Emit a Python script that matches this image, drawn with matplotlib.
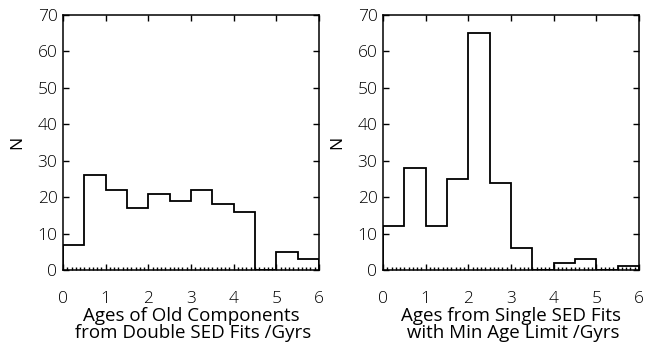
import matplotlib.pyplot as plt
import numpy as np
from matplotlib.ticker import MultipleLocator

bin_edges = [0, 0.5, 1, 1.5, 2, 2.5, 3, 3.5, 4, 4.5, 5, 5.5, 6]
double_counts = [7, 26, 22, 17, 21, 19, 22, 18, 16, 0, 5, 3]
single_counts = [12, 28, 12, 25, 65, 24, 6, 0, 2, 3, 0, 1]

xlabels = ['Ages of Old Components\n from Double SED Fits /Gyrs',
           'Ages from Single SED Fits\n with Min Age Limit /Gyrs']

plt.rcParams['font.family'] = ['Open Sans', 'DejaVu Sans']
plt.rcParams['font.weight'] = 'light'

fig = plt.figure(figsize=(6.47, 3.45), dpi=100)
ax1 = fig.add_axes([63/647, 1 - 270/345, 256/647, 255/345])
ax2 = fig.add_axes([383/647, 1 - 270/345, 256/647, 255/345])

for ax, counts, lab in zip([ax1, ax2], [double_counts, single_counts], xlabels):
    ax.stairs(counts, bin_edges, color='black', linewidth=1.3)
    ax.set_xlim(0, 6)
    ax.set_ylim(0, 70)
    ax.set_xticks(range(7))
    ax.set_yticks(range(0, 71, 10))
    ax.xaxis.set_minor_locator(MultipleLocator(0.1))
    ax.tick_params(axis='both', which='major', direction='in', length=4,
                   width=1, top=True, right=True, labelsize=12.5)
    ax.tick_params(axis='x', which='major', pad=15)
    ax.tick_params(axis='y', which='major', pad=4)
    ax.tick_params(axis='x', which='minor', direction='in', length=2.5,
                   width=1, bottom=True, top=False)
    ax.tick_params(axis='y', which='minor', left=False, right=False)
    for s in ax.spines.values():
        s.set_linewidth(1.1)
    ax.set_xlabel(lab, fontsize=13.5, linespacing=0.95, labelpad=0)
    ax.set_ylabel('N', fontsize=12.5, labelpad=9)

plt.savefig('out.png', dpi=100)
